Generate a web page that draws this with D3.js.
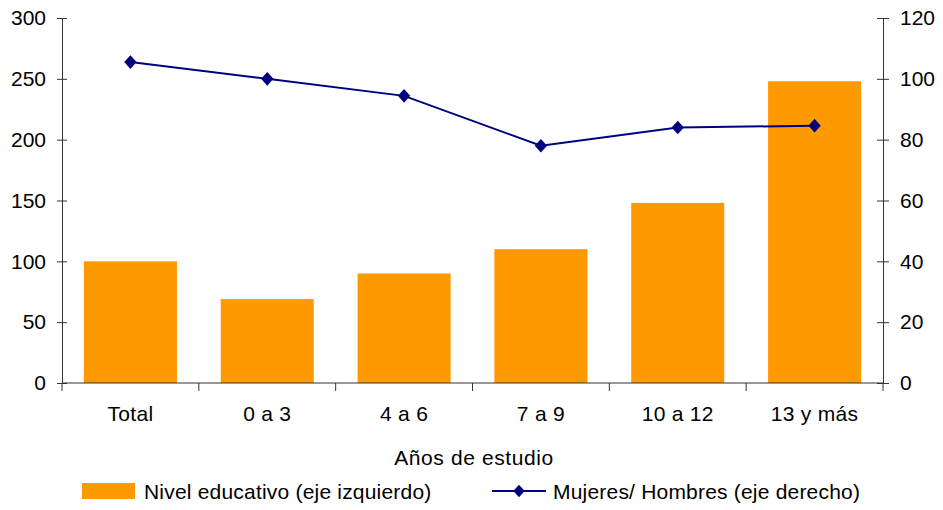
<!DOCTYPE html>
<html lang="es">
  <head>
    <meta charset="UTF-8">
    <title>Nivel educativo</title>
    <style>
      body { margin: 0; background: #fff; }
      text { font-family: "Liberation Sans", Arial, sans-serif; fill: #000; font-size: 21px; }
      .axis path, .axis line { stroke: #333; }
    </style>
  </head>
  <body>
    <svg id="chart"></svg>

    <script src="https://cdn.jsdelivr.net/npm/d3@7"></script>
    <script>
      // Datos
      var categories = ["Total", "0 a 3", "4 a 6", "7 a 9", "10 a 12", "13 y más"];
      var nivelEducativo = [100, 69, 90, 110, 148, 248];
      var mujeresHombres = [105.5, 100, 94.4, 78, 84, 84.6];
      var leftTicks = [0, 50, 100, 150, 200, 250, 300];
      var rightTicks = [0, 20, 40, 60, 80, 100, 120];

      var width = 943, height = 510;
      var margin = { top: 18, right: 60, bottom: 127, left: 62 };

      var svg = d3.select("#chart")
        .attr("width", width)
        .attr("height", height);

      var x = d3.scaleBand()
        .domain(categories)
        .range([margin.left, width - margin.right])
        .paddingInner(0.32)
        .paddingOuter(0.16);

      var yLeft = d3.scaleLinear()
        .domain([0, 300])
        .range([height - margin.bottom, margin.top]);

      var yRight = d3.scaleLinear()
        .domain([0, 120])
        .range([height - margin.bottom, margin.top]);

      // Rombo casi cuadrado, como el marcador de Excel
      var squareDiamond = {
        draw: function(context, size) {
          var h = Math.sqrt(size) / 2;
          context.moveTo(0, -h * 1.05);
          context.lineTo(h * 0.95, 0);
          context.lineTo(0, h * 1.05);
          context.lineTo(-h * 0.95, 0);
          context.closePath();
        }
      };

      // Barras
      svg.append("g")
        .selectAll("rect")
        .data(nivelEducativo)
        .enter()
        .append("rect")
        .attr("x", function(d, i) { return x(categories[i]); })
        .attr("y", function(d) { return yLeft(d); })
        .attr("width", x.bandwidth())
        .attr("height", function(d) { return yLeft(0) - yLeft(d); })
        .attr("fill", "#FF9900");

      // Ejes
      var leftAxis = svg.append("g")
        .attr("class", "axis")
        .attr("transform", "translate(" + margin.left + ",0)")
        .call(d3.axisLeft(yLeft).tickValues(leftTicks).tickSizeInner(5).tickSizeOuter(0));
      leftAxis.selectAll(".tick line").attr("x1", 5);
      leftAxis.selectAll("text").attr("x", -16).style("font-size", "21px").style("font-family", null);

      var rightAxis = svg.append("g")
        .attr("class", "axis")
        .attr("transform", "translate(" + (width - margin.right) + ",0)")
        .call(d3.axisRight(yRight).tickValues(rightTicks).tickSizeInner(6).tickSizeOuter(0));
      rightAxis.selectAll(".tick line").attr("x1", -6);
      rightAxis.selectAll("text").attr("x", 17).style("font-size", "21px");
      svg.selectAll(".axis").attr("font-family", null).attr("font-size", null);

      var bottom = svg.append("g")
        .attr("class", "axis")
        .attr("transform", "translate(0," + yLeft(0) + ")");
      bottom.append("line")
        .attr("x1", margin.left).attr("x2", width - margin.right)
        .attr("stroke", "#333");
      var step = x.step();
      var edges = d3.range(categories.length + 1).map(function(i) {
        return margin.left + i * step;
      });
      bottom.selectAll(".edge")
        .data(edges)
        .enter()
        .append("line")
        .attr("x1", function(d) { return d; })
        .attr("x2", function(d) { return d; })
        .attr("y1", 0).attr("y2", 8)
        .attr("stroke", "#333");
      bottom.selectAll(".cat")
        .data(categories)
        .enter()
        .append("text")
        .attr("x", function(d) { return x(d) + x.bandwidth() / 2; })
        .attr("y", 38)
        .attr("text-anchor", "middle")
        .style("letter-spacing", "0.3px")
        .text(function(d) { return d; });

      svg.append("text")
        .attr("x", 474)
        .attr("y", 465)
        .attr("text-anchor", "middle")
        .style("letter-spacing", "0.6px")
        .text("Años de estudio");

      // Linea
      var line = d3.line()
        .x(function(d, i) { return x(categories[i]) + x.bandwidth() / 2; })
        .y(function(d) { return yRight(d); });

      svg.append("path")
        .datum(mujeresHombres)
        .attr("d", line)
        .attr("fill", "none")
        .attr("stroke", "#000080")
        .attr("stroke-width", 2);

      var diamond = d3.symbol().type(squareDiamond).size(169);
      svg.append("g")
        .selectAll("path")
        .data(mujeresHombres)
        .enter()
        .append("path")
        .attr("d", diamond)
        .attr("transform", function(d, i) {
          return "translate(" + (x(categories[i]) + x.bandwidth() / 2) + "," + yRight(d) + ")";
        })
        .attr("fill", "#000080");

      // Leyenda
      var legend = svg.append("g");
      legend.append("rect")
        .attr("x", 82).attr("y", 483)
        .attr("width", 53).attr("height", 16)
        .attr("fill", "#FF9900");
      legend.append("text")
        .attr("x", 144).attr("y", 499)
        .style("letter-spacing", "0.2px")
        .text("Nivel educativo (eje izquierdo)");
      legend.append("line")
        .attr("x1", 492).attr("x2", 546)
        .attr("y1", 491).attr("y2", 491)
        .attr("stroke", "#000080").attr("stroke-width", 2);
      legend.append("path")
        .attr("d", d3.symbol().type(squareDiamond).size(144))
        .attr("transform", "translate(519,491)")
        .attr("fill", "#000080");
      legend.append("text")
        .attr("x", 553).attr("y", 499)
        .style("letter-spacing", "0.2px")
        .text("Mujeres/ Hombres (eje derecho)");
    </script>
  </body>
</html>
